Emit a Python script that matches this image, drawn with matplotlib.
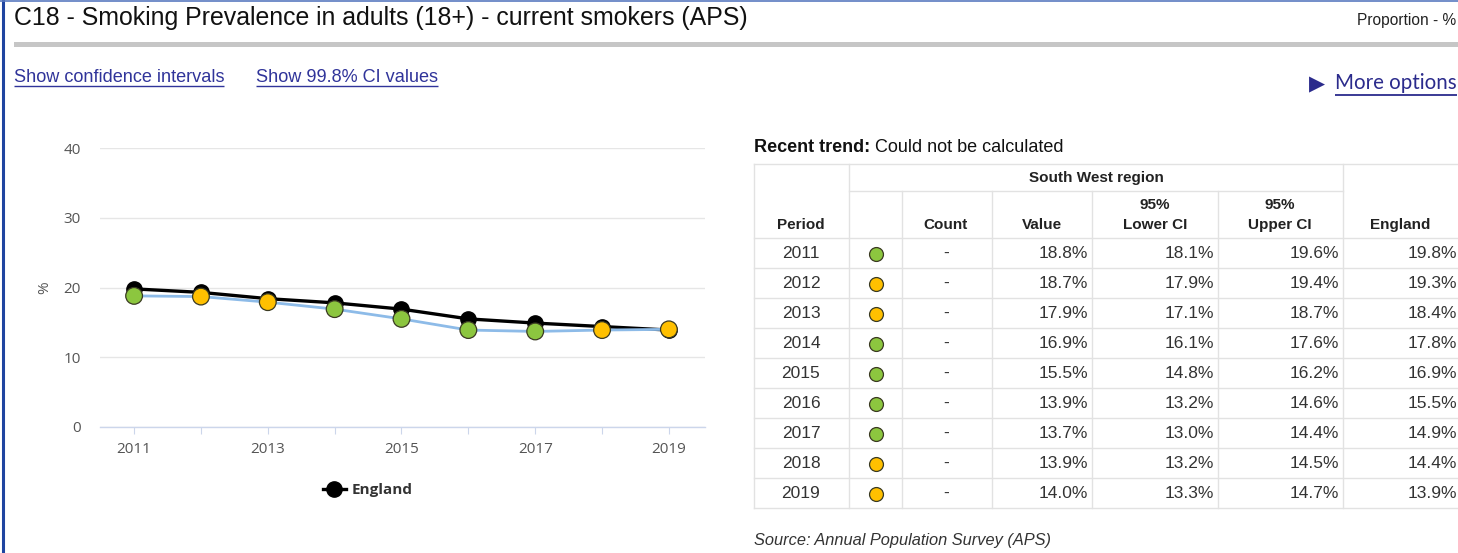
import numpy as np
import matplotlib
matplotlib.use("Agg")
import matplotlib.pyplot as plt
from matplotlib.lines import Line2D

# --- data ---
years = [2011, 2012, 2013, 2014, 2015, 2016, 2017, 2018, 2019]
sw_value = [18.8, 18.7, 17.9, 16.9, 15.5, 13.9, 13.7, 13.9, 14.0]
sw_lower = [18.1, 17.9, 17.1, 16.1, 14.8, 13.2, 13.0, 13.2, 13.3]
sw_upper = [19.6, 19.4, 18.7, 17.6, 16.2, 14.6, 14.4, 14.5, 14.7]
england = [19.8, 19.3, 18.4, 17.8, 16.9, 15.5, 14.9, 14.4, 13.9]
# comparison with England: 'g' = better, 'a' = similar
rag = ['g', 'a', 'a', 'g', 'g', 'g', 'g', 'a', 'a']
counts = ['-'] * 9
y_ticks = [0, 10, 20, 30, 40]
x_tick_labels = [2011, 2013, 2015, 2017, 2019]

GREEN = '#8cc63f'
AMBER = '#ffc000'
rag_color = {'g': GREEN, 'a': AMBER}
LINK = '#30349a'
TXT = '#333333'
W, H = 1458, 553

plt.rcParams['font.family'] = ['Liberation Sans', 'DejaVu Sans']
fig = plt.figure(figsize=(W / 100, H / 100), dpi=100)

# page overlay in pixel coordinates
bg = fig.add_axes([0, 0, 1, 1], zorder=0)
bg.set_xlim(0, W)
bg.set_ylim(H, 0)
bg.axis('off')
renderer = fig.canvas.get_renderer()


def px_width(t):
    bb = t.get_window_extent(renderer)
    return bb.width


def underline(t, x, y, color, lw=1.0):
    w = px_width(t)
    bg.plot([x, x + w], [y, y], color=color, lw=lw, solid_capstyle='butt')


# borders
bg.plot([3, 3], [0, H], color='#1f44a0', lw=2.2)
bg.plot([0, W], [0.5, 0.5], color='#5a7ac0', lw=1.2)

# header
bg.text(14, 18, 'C18 - Smoking Prevalence in adults (18+) - current smokers (APS)',
        fontsize=17.9, color='#111111', va='center', ha='left')
bg.text(1357, 20, 'Proportion - %', fontsize=11.2, color='#222222', va='center', ha='left')
bg.add_patch(plt.Rectangle((14, 42), W - 14, 5, color='#c6c6c6', lw=0))

t1 = bg.text(14, 77, 'Show confidence intervals', fontsize=13.1, color=LINK, va='center')
underline(t1, 14, 86, LINK)
t2 = bg.text(256, 77, 'Show 99.8% CI values', fontsize=13.1, color=LINK, va='center')
underline(t2, 256, 86, LINK)

bg.text(1309, 84, '\u25b6', fontsize=15, color='#2b2b8c', va='center', family=['DejaVu Sans'])
t3 = bg.text(1335, 83, 'More options', fontsize=14.8, color='#2b2b8c', va='center', family=['Lato'])
underline(t3, 1335, 95, '#2b2b8c', lw=1.3)

# --- chart ---
ax = fig.add_axes([100 / W, 126 / H, 605 / W, 279 / H], zorder=2)
ax.patch.set_alpha(0)
ax.set_xlim(2010.49, 2019.54)
ax.set_ylim(0, 40)
for s in ['top', 'right', 'left']:
    ax.spines[s].set_visible(False)
ax.spines['bottom'].set_color('#ccd6eb')
ax.spines['bottom'].set_linewidth(1)
ax.set_yticks(y_ticks)
ax.yaxis.grid(True, color='#e6e6e6', lw=1)
ax.set_axisbelow(True)
ax.tick_params(axis='y', length=0, pad=14, labelsize=11, labelcolor='#555555')
ax.set_xticks(years)
ax.set_xticklabels([str(y) if y in x_tick_labels else '' for y in years])
ax.tick_params(axis='x', length=5, color='#ccd6eb', pad=6, labelsize=11, labelcolor='#555555')
for lab in ax.get_xticklabels() + ax.get_yticklabels():
    lab.set_family(['Open Sans', 'DejaVu Sans'])
ax.set_ylabel('%', fontsize=11, color='#555555', family=['Open Sans'], labelpad=8)

ax.plot(years, england, color='black', lw=2.4, marker='o', ms=11,
        mfc='black', mec='black', zorder=3)
ax.plot(years, sw_value, color='#8dbbe8', lw=2.0, zorder=4)
ax.scatter(years, sw_value, s=145, c=[rag_color[r] for r in rag],
           edgecolors='#3a3a22', linewidths=0.9, zorder=5)

leg_handle = Line2D([], [], color='black', lw=2.4, marker='o', ms=11)
leg = ax.legend([leg_handle], ['England'], loc='center',
                bbox_to_anchor=(368 / W, 1 - 490 / H), bbox_transform=fig.transFigure,
                frameon=False, handlelength=1.5, handletextpad=0.4,
                prop={'family': 'Open Sans', 'weight': 'bold', 'size': 11})
for t in leg.get_texts():
    t.set_color('#333333')

# --- table ---
tr = bg.text(754, 147, 'Recent trend:', fontsize=13, weight='bold', color='#111111', va='center')
bg.text(754 + px_width(tr) + 5, 147, 'Could not be calculated', fontsize=13,
        color='#111111', va='center')

GRID = '#e2e2e2'
col_x = [754, 849, 902, 992, 1092, 1218, 1343, 1470]
top, mid, head_bot = 164, 191, 238
row_h = 30
n = len(years)
bottom = head_bot + n * row_h
# horizontal lines
bg.plot([754, 1470], [top, top], color=GRID, lw=1)
bg.plot([849, 1343], [mid, mid], color=GRID, lw=1)
for i in range(n + 1):
    yy = head_bot + i * row_h
    bg.plot([754, 1470], [yy, yy], color=GRID, lw=1)
# vertical lines
for j, x in enumerate(col_x[:-1]):
    y0 = mid if j in (2, 3, 4, 5) else top
    bg.plot([x, x], [y0, bottom], color=GRID, lw=1)

hfs = 11
bg.text(1096, 178, 'South West region', fontsize=hfs, weight='bold', color='#222222',
        ha='center', va='center')
heads = [(801, 'Period'), (946, 'Count'), (1042, 'Value'), (1400, 'England')]
for x, s in heads:
    bg.text(x, 225, s, fontsize=hfs, weight='bold', color='#222222', ha='center', va='center')
for x, s in [(1155, 'Lower CI'), (1280, 'Upper CI')]:
    bg.text(x, 205, '95%', fontsize=hfs, weight='bold', color='#222222', ha='center', va='center')
    bg.text(x, 225, s, fontsize=hfs, weight='bold', color='#222222', ha='center', va='center')

vfs = 12.5
for i in range(n):
    yc = head_bot + i * row_h + row_h / 2
    bg.text(801, yc, str(years[i]), fontsize=vfs, color=TXT, ha='center', va='center')
    bg.plot(876, yc + 1, marker='o', ms=10, mfc=rag_color[rag[i]], mec='#3a3a22', mew=0.9)
    bg.text(946, yc, counts[i], fontsize=vfs, color=TXT, ha='center', va='center')
    bg.text(1088, yc, f'{sw_value[i]:.1f}%', fontsize=vfs, color=TXT, ha='right', va='center')
    bg.text(1214, yc, f'{sw_lower[i]:.1f}%', fontsize=vfs, color=TXT, ha='right', va='center')
    bg.text(1339, yc, f'{sw_upper[i]:.1f}%', fontsize=vfs, color=TXT, ha='right', va='center')
    bg.text(1457, yc, f'{england[i]:.1f}%', fontsize=vfs, color=TXT, ha='right', va='center')

bg.text(754, 541, 'Source: Annual Population Survey (APS)', fontsize=11.8, style='italic',
        color=TXT, va='center')

fig.savefig('out.png', dpi=100)
